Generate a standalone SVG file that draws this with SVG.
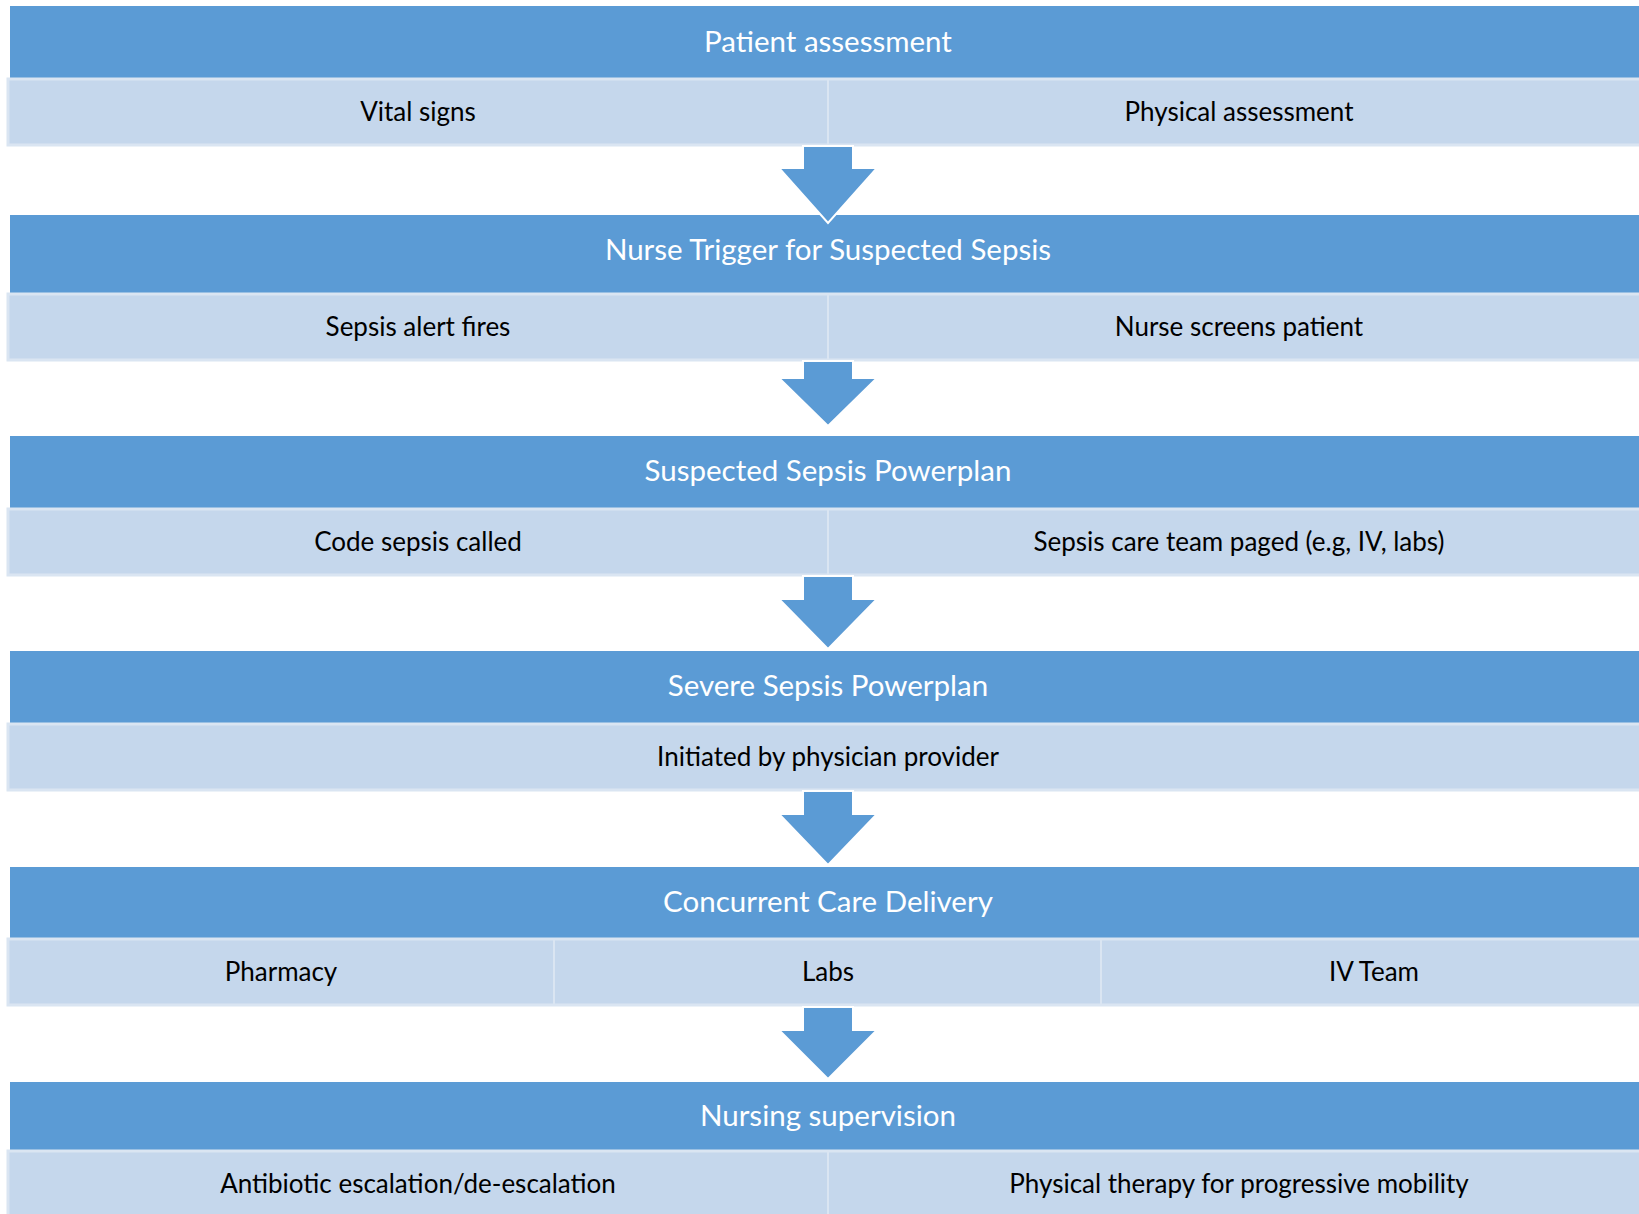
<svg xmlns="http://www.w3.org/2000/svg" width="1639" height="1214" viewBox="0 0 1639 1214">
  <style>
    .hdr { fill: #5B9BD5; }
    .sub { fill: #C5D7EC; stroke: #DAE5F2; stroke-width: 3; }
    .div { stroke: #DAE5F2; stroke-width: 2; }
    .arrow { fill: #5B9BD5; stroke: #FFFFFF; stroke-width: 2; }
    .ht { font-family: Lato, "Open Sans", sans-serif; font-size: 29.5px; fill: #FFFFFF; text-anchor: middle; }
    .st { font-family: Lato, "Open Sans", sans-serif; font-size: 26px; fill: #000000; text-anchor: middle; }
  </style>
  <rect width="1639" height="1214" fill="#FFFFFF"/>

  <g id="step1">
    <rect class="hdr" x="10" y="6" width="1640" height="73"/>
    <text class="ht" x="828" y="52">Patient assessment</text>
    <rect class="sub" x="8" y="79" width="1650" height="66"/>
    <line class="div" x1="828" y1="79" x2="828" y2="144"/>
    <text class="st" x="418" y="121">Vital signs</text>
    <text class="st" x="1239" y="121">Physical assessment</text>
  </g>

  <g id="step2">
    <rect class="hdr" x="10" y="215" width="1640" height="79"/>
    <text class="ht" x="828" y="260">Nurse Trigger for Suspected Sepsis</text>
    <rect class="sub" x="8" y="294" width="1650" height="66"/>
    <line class="div" x1="828" y1="294" x2="828" y2="359"/>
    <text class="st" x="418" y="336">Sepsis alert fires</text>
    <text class="st" x="1239" y="336">Nurse screens patient</text>
  </g>

  <g id="step3">
    <rect class="hdr" x="10" y="436" width="1640" height="73"/>
    <text class="ht" x="828" y="481">Suspected Sepsis Powerplan</text>
    <rect class="sub" x="8" y="509" width="1650" height="66"/>
    <line class="div" x1="828" y1="509" x2="828" y2="574"/>
    <text class="st" x="418" y="551">Code sepsis called</text>
    <text class="st" x="1239" y="551">Sepsis care team paged (e.g, IV, labs)</text>
  </g>

  <g id="step4">
    <rect class="hdr" x="10" y="651" width="1640" height="73"/>
    <text class="ht" x="828" y="696">Severe Sepsis Powerplan</text>
    <rect class="sub" x="8" y="724" width="1650" height="66"/>
    <text class="st" x="828" y="766">Initiated by physician provider</text>
  </g>

  <g id="step5">
    <rect class="hdr" x="10" y="867" width="1640" height="72"/>
    <text class="ht" x="828" y="912">Concurrent Care Delivery</text>
    <rect class="sub" x="8" y="939" width="1650" height="66"/>
    <line class="div" x1="554" y1="939" x2="554" y2="1004"/>
    <line class="div" x1="1101" y1="939" x2="1101" y2="1004"/>
    <text class="st" x="281" y="981">Pharmacy</text>
    <text class="st" x="828" y="981">Labs</text>
    <text class="st" x="1374" y="981">IV Team</text>
  </g>

  <g id="step6">
    <rect class="hdr" x="10" y="1082" width="1640" height="69"/>
    <text class="ht" x="828" y="1126">Nursing supervision</text>
    <rect class="sub" x="8" y="1151" width="1650" height="70"/>
    <line class="div" x1="828" y1="1151" x2="828" y2="1220"/>
    <text class="st" x="418" y="1193">Antibiotic escalation/de-escalation</text>
    <text class="st" x="1239" y="1193">Physical therapy for progressive mobility</text>
  </g>

  <g id="connectors">
    <path class="arrow" d="M803,146 H853 V168 H877 L828,223 L779,168 H803 Z"/>
    <path class="arrow" d="M803,361 H853 V378 H877 L828,426 L779,378 H803 Z"/>
    <path class="arrow" d="M803,576 H853 V599 H877 L828,649 L779,599 H803 Z"/>
    <path class="arrow" d="M803,791 H853 V814 H877 L828,865 L779,814 H803 Z"/>
    <path class="arrow" d="M803,1007 H853 V1030 H877 L828,1079 L779,1030 H803 Z"/>
  </g>
</svg>
